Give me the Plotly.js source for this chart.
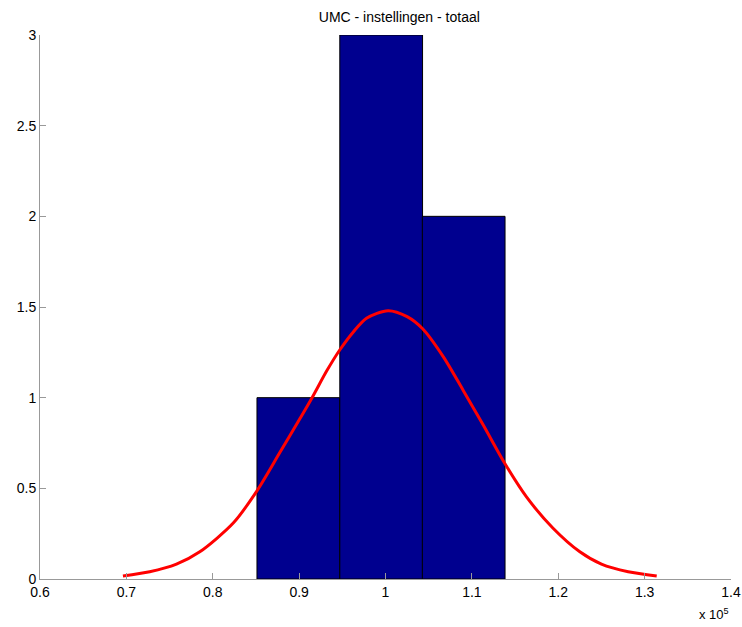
<!DOCTYPE html>
<html>
<head>
<meta charset="utf-8">
<script src="https://cdn.plot.ly/plotly-3.0.1.min.js"></script>
<style>
  html, body { margin: 0; padding: 0; background: #fff; }
  #hist_plot { width: 742px; height: 627px; }
</style>
</head>
<body>
<div id="hist_plot"></div>
<script>
// histogram bins (values in units of 1e5)
const binCenters = [0.8991, 0.9950, 1.0905];
const binCounts = [1, 3, 2];
const binWidth = 0.0958;

// fitted normal curve
const fitX = [0.696, 0.727, 0.758, 0.785, 0.824, 0.851, 0.878, 0.901, 0.915, 0.932, 0.947, 0.963, 0.978,
              1.003, 1.025, 1.043, 1.067, 1.090, 1.113, 1.138, 1.163, 1.194, 1.225, 1.250, 1.281, 1.314];
const fitY = [0.017, 0.040, 0.082, 0.150, 0.310, 0.485, 0.700, 0.885, 1.000, 1.148, 1.263, 1.364, 1.438,
              1.480, 1.447, 1.380, 1.225, 1.040, 0.850, 0.638, 0.454, 0.280, 0.150, 0.082, 0.040, 0.017];

const xTickVals = [0.6, 0.7, 0.8, 0.9, 1.0, 1.1, 1.2, 1.3, 1.4];
const xTickText = ['0.6', '0.7', '0.8', '0.9', '1', '1.1', '1.2', '1.3', '1.4'];
const yTickVals = [0, 0.5, 1, 1.5, 2, 2.5, 3];
const yTickText = ['0', '0.5', '1', '1.5', '2', '2.5', '3'];

const font = 'Liberation Sans, Arial, sans-serif';

const bars = {
    type: 'bar',
    x: binCenters,
    y: binCounts,
    width: binWidth,
    marker: { color: '#00008f', line: { color: '#000000', width: 1 } },
    hoverinfo: 'none'
};

const fitLine = {
    type: 'scatter',
    mode: 'lines',
    x: fitX,
    y: fitY,
    line: { color: '#ff0000', width: 3, shape: 'spline', smoothing: 0.8 },
    hoverinfo: 'none'
};

const axisSettings = {
    showgrid: false,
    zeroline: false,
    showline: true,
    linecolor: '#999999',
    linewidth: 1,
    ticks: 'inside',
    ticklen: 6,
    tickcolor: '#999999',
    tickfont: { family: font, size: 14, color: '#000000' },
    fixedrange: true
};

const layout = {
    width: 742,
    height: 627,
    margin: { l: 40, r: 11, t: 35, b: 48 },
    paper_bgcolor: '#ffffff',
    plot_bgcolor: '#ffffff',
    showlegend: false,
    bargap: 0,
    title: {
        text: 'UMC - instellingen - totaal',
        font: { family: font, size: 14, color: '#000000' },
        x: 0.52, xref: 'paper', xanchor: 'center',
        y: 0.972, yref: 'container', yanchor: 'middle'
    },
    xaxis: { ...axisSettings, range: [0.6, 1.4], tickvals: xTickVals, ticktext: xTickText },
    yaxis: { ...axisSettings, range: [0, 3], tickvals: yTickVals, ticktext: yTickText },
    annotations: [{
        text: 'x 10<sup>5</sup>',
        xref: 'paper', yref: 'paper',
        x: 1.0, y: -0.064,
        xanchor: 'right', yanchor: 'middle',
        showarrow: false,
        font: { family: font, size: 13, color: '#000000' }
    }]
};

Plotly.newPlot('hist_plot', [bars, fitLine], layout, { displayModeBar: false, staticPlot: true });
</script>
</body>
</html>
